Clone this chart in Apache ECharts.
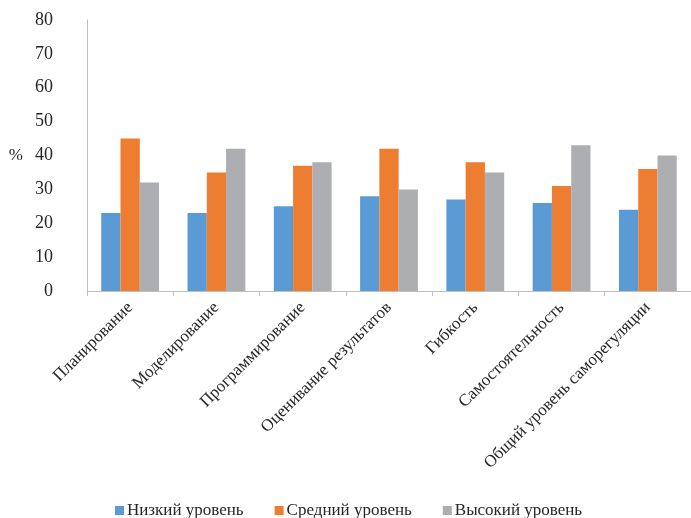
<!DOCTYPE html>
<html>
<head>
<meta charset="utf-8">
<script src="https://cdn.jsdelivr.net/npm/echarts@6/dist/echarts.min.js"></script>
<style>
  html, body { margin: 0; padding: 0; background: #fff; }
  #chart { width: 691px; height: 518px; }
</style>
</head>
<body>
<div id="chart"></div>
<script>
// Self-regulation components
const categories = [
  'Планирование',
  'Моделирование',
  'Программирование',
  'Оценивание результатов',
  'Гибкость',
  'Самостоятельность',
  'Общий уровень саморегуляции'
];

// Share of respondents by level, %
const lowLevel = [23, 23, 25, 28, 27, 26, 24];
const midLevel = [45, 35, 37, 42, 38, 31, 36];
const highLevel = [32, 42, 38, 30, 35, 43, 40];

const seriesNames = ['Низкий уровень', 'Средний уровень', 'Высокий уровень'];
const yTicks = { min: 0, max: 80, interval: 10 };

const font = '"Liberation Serif", "Times New Roman", serif';
const textColor = '#262626';

const chart = echarts.init(document.getElementById('chart'));

function barSeries(name, data, color) {
  return {
    name: name,
    type: 'bar',
    data: data,
    barGap: '0%',
    barCategoryGap: '33%',
    itemStyle: { color: color },
    emphasis: { disabled: true }
  };
}

chart.setOption({
  animation: false,
  textStyle: { fontFamily: font },
  grid: { left: 87, right: -5, top: 20, bottom: 227, containLabel: false },
  legend: {
    top: 497,
    left: 110,
    itemWidth: 9,
    itemHeight: 9,
    itemGap: 31,
    icon: 'rect',
    textStyle: { fontFamily: font, fontSize: 17, color: textColor, padding: [0, 0, 0, -2] },
    data: seriesNames
  },
  xAxis: {
    type: 'category',
    data: categories,
    axisLine: { lineStyle: { color: '#bfbfbf', width: 1 } },
    axisTick: { show: true, length: 5, alignWithLabel: false, lineStyle: { color: '#bfbfbf' } },
    axisLabel: {
      rotate: 45,
      interval: 0,
      margin: 14,
      fontFamily: font,
      fontSize: 17,
      color: textColor
    }
  },
  yAxis: {
    type: 'value',
    min: yTicks.min,
    max: yTicks.max,
    interval: yTicks.interval,
    name: '%',
    nameLocation: 'middle',
    nameRotate: 0,
    nameGap: 64,
    nameTextStyle: { fontFamily: font, fontSize: 17, color: textColor },
    axisLine: { show: true, lineStyle: { color: '#bfbfbf', width: 1 } },
    axisTick: { show: false },
    splitLine: { show: false },
    axisLabel: { margin: 34, fontFamily: font, fontSize: 18, color: textColor }
  },
  series: [
    barSeries(seriesNames[0], lowLevel, '#5B9BD5'),
    barSeries(seriesNames[1], midLevel, '#ED7D31'),
    barSeries(seriesNames[2], highLevel, '#ADAEB1')
  ]
});
</script>
</body>
</html>
